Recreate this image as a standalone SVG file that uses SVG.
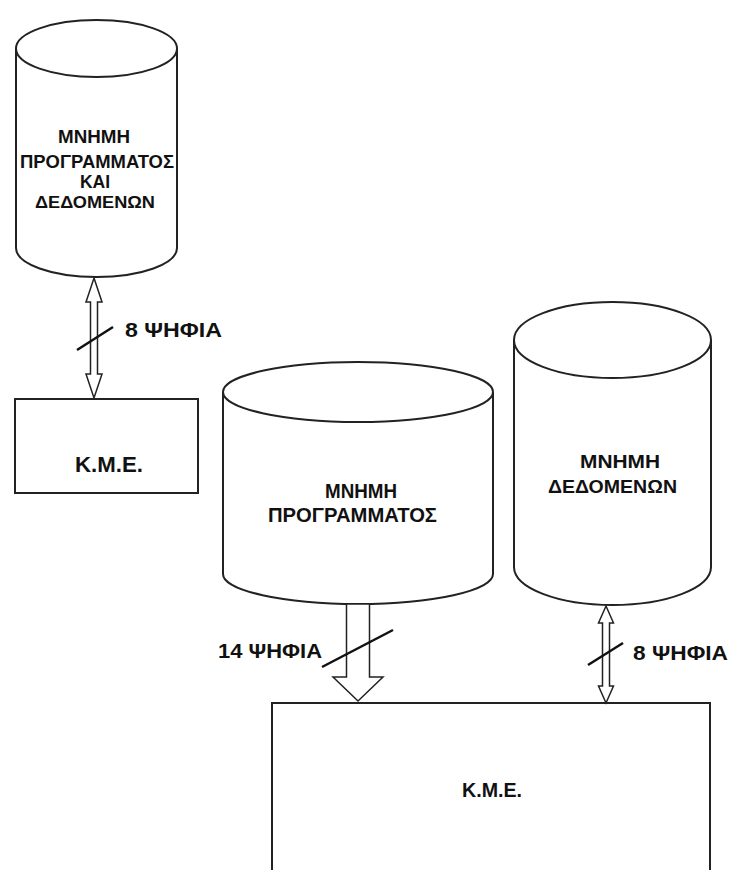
<svg xmlns="http://www.w3.org/2000/svg" width="731" height="870" viewBox="0 0 731 870">
<style>
.sh{fill:#fff;stroke:#222;stroke-width:2}
.ar{fill:#fff;stroke:#222;stroke-width:1.5;stroke-linejoin:miter}
.sl{stroke:#111;stroke-width:2.5;fill:none}
text{font-family:"Liberation Sans",Arial,sans-serif;font-weight:bold;fill:#111;text-anchor:middle}
</style>
<rect width="731" height="870" fill="#fff"/>
<g id="mem1">
<path class="sh" d="M16,48 V248 A80.5,29 0 0 0 177,248 V48"/>
<ellipse class="sh" cx="96.5" cy="48.5" rx="80.5" ry="28.5"/>
<text x="94" y="143" font-size="18" textLength="72" lengthAdjust="spacingAndGlyphs">ΜΝΗΜΗ</text>
<text x="97" y="168" font-size="18" textLength="154" lengthAdjust="spacingAndGlyphs">ΠΡΟΓΡΑΜΜΑΤΟΣ</text>
<text x="95" y="188" font-size="17.5">ΚΑΙ</text>
<text x="95" y="207.5" font-size="17" textLength="120" lengthAdjust="spacingAndGlyphs">ΔΕΔΟΜΕΝΩΝ</text>
</g>
<g id="cpu1">
<rect class="sh" x="15" y="399" width="183" height="94"/>
<text x="109" y="472" font-size="22" textLength="68" lengthAdjust="spacingAndGlyphs">K.M.E.</text>
</g>
<g id="mem2">
<path class="sh" d="M223,392 V574 A135,30 0 0 0 493,574 V392"/>
<ellipse class="sh" cx="358" cy="392" rx="135" ry="30"/>
<text x="361" y="498" font-size="19.5" textLength="72" lengthAdjust="spacingAndGlyphs">ΜΝΗΜΗ</text>
<text x="352.5" y="522" font-size="19.5" textLength="169" lengthAdjust="spacingAndGlyphs">ΠΡΟΓΡΑΜΜΑΤΟΣ</text>
</g>
<g id="mem3">
<path class="sh" d="M514,340 V567 A98.5,38 0 0 0 711,567 V340"/>
<ellipse class="sh" cx="612.5" cy="340" rx="98.5" ry="38"/>
<text x="620" y="468" font-size="18.5" textLength="80" lengthAdjust="spacingAndGlyphs">ΜΝΗΜΗ</text>
<text x="612.5" y="493" font-size="18.5" textLength="129" lengthAdjust="spacingAndGlyphs">ΔΕΔΟΜΕΝΩΝ</text>
</g>
<g id="cpu2">
<path class="sh" d="M272,875 V703 H710 V875"/>
<text x="492" y="797" font-size="20" textLength="60" lengthAdjust="spacingAndGlyphs">K.M.E.</text>
</g>
<g id="connectors">
<path class="ar" d="M94,278 L102,302 L97.5,302 L97.5,374 L102,374 L94,398 L86,374 L90.5,374 L90.5,302 L86,302 Z"/>
<line class="sl" x1="77" y1="350" x2="113" y2="327"/>
<text x="173.5" y="337" font-size="20" textLength="97" lengthAdjust="spacingAndGlyphs">8 ΨΗΦΙΑ</text>
<path class="ar" d="M346.5,604 L369.5,604 L369.5,677 L383,677 L358,701 L333,677 L346.5,677 Z"/>
<line class="sl" x1="322" y1="667" x2="393" y2="630"/>
<text x="270" y="658" font-size="20" textLength="104" lengthAdjust="spacingAndGlyphs">14 ΨΗΦΙΑ</text>
<path class="ar" d="M606,606 L613.5,623 L609.5,623 L609.5,686 L613.5,686 L606,703 L598.5,686 L602.5,686 L602.5,623 L598.5,623 Z"/>
<line class="sl" x1="588" y1="665" x2="623" y2="643"/>
<text x="680.5" y="660" font-size="20" textLength="95" lengthAdjust="spacingAndGlyphs">8 ΨΗΦΙΑ</text>
</g>
</svg>
